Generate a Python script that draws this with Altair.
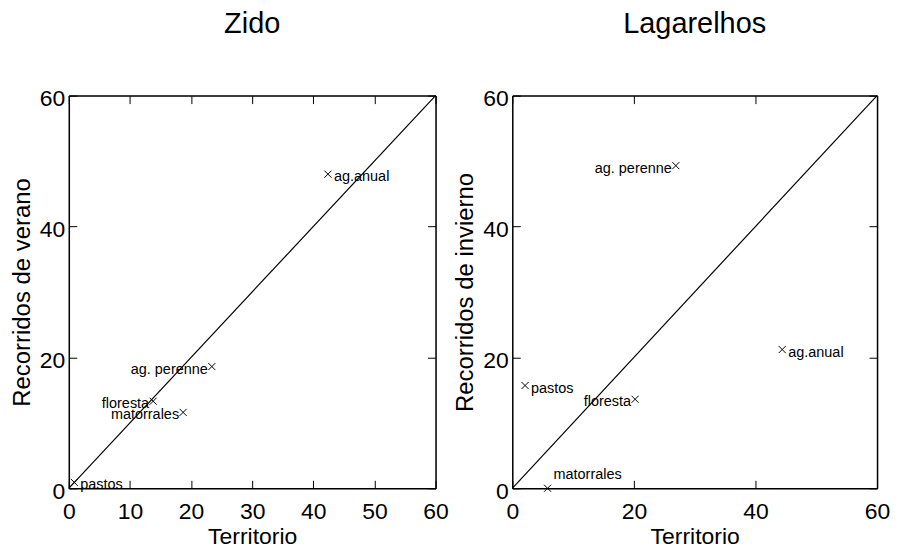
import json
import altair as alt
import pandas as pd

# ---- data ----
CATEGORIES = ["ag.anual", "ag. perenne", "floresta", "matorrales", "pastos"]
ZIDO_TERRITORIO = [42.4, 23.4, 13.8, 18.7, 0.9]
ZIDO_VERANO = [48.0, 18.6, 13.3, 11.6, 0.9]
LAG_TERRITORIO = [44.4, 26.9, 20.2, 5.8, 2.1]
LAG_INVIERNO = [21.2, 49.3, 13.6, 0.0, 15.7]
DIAGONAL = [0, 60]
ZIDO_XTICKS = [0, 10, 20, 30, 40, 50, 60]
LAG_XTICKS = [0, 20, 40, 60]
YTICKS = [0, 20, 40, 60]

# ---- styling ----
FONT = "Liberation Sans"
H = 394
W_LEFT, W_RIGHT = 368, 366
CROSS = "M-1,-1L1,1M-1,1L1,-1"


def tick_axis(orient, vals, off, domain):
    return alt.Axis(orient=orient, values=vals, offset=off, labels=False,
                    domain=domain, domainColor="black", domainWidth=1.5,
                    grid=False, ticks=True, tickSize=8,
                    tickColor="black", tickWidth=1, title=None)


def panel(title, xs, ys, ytitle, xticks, width, left_labels, above_labels):
    df = pd.DataFrame({"x": xs, "y": ys, "label": CATEGORIES})
    diag = pd.DataFrame({"x": DIAGONAL, "y": DIAGONAL})
    sx = alt.Scale(domain=[0, 60], nice=False, zero=False)
    sy = alt.Scale(domain=[0, 60], nice=False, zero=False)

    main_x = alt.X("x:Q", scale=sx, axis=alt.Axis(
        orient="bottom", values=xticks, ticks=False, grid=False,
        domain=True, domainColor="black", domainWidth=1.5,
        labelFont=FONT, labelFontSize=23, labelColor="black", labelPadding=12,
        labelFlush=False, labelOverlap=False, format="d",
        title="Territorio", titleFont=FONT, titleFontSize=23,
        titleFontWeight="normal", titleColor="black", titlePadding=2))
    main_y = alt.Y("y:Q", scale=sy, axis=alt.Axis(
        orient="left", values=YTICKS, ticks=False, grid=False,
        domain=True, domainColor="black", domainWidth=1.5,
        labelFont=FONT, labelFontSize=23, labelColor="black", labelPadding=4,
        labelOffset=3, labelFlush=False, labelOverlap=False, format="d",
        title=ytitle, titleFont=FONT, titleFontSize=24,
        titleFontWeight="normal", titleColor="black", titlePadding=5))

    pts = alt.Chart(df).mark_point(
        shape=CROSS, size=50, filled=False, stroke="black", strokeWidth=1,
        opacity=1).encode(x=main_x, y=main_y)

    # inward ticks on all four sides (+ top and right frame lines)
    line = alt.Chart(diag).mark_line(color="black", strokeWidth=1.2).encode(
        x=alt.X("x:Q", scale=sx, axis=tick_axis("top", xticks, -H, False)),
        y=alt.Y("y:Q", scale=sy, axis=tick_axis("right", YTICKS, -width, False)))
    line2 = alt.Chart(diag).mark_line(opacity=0).encode(
        x=alt.X("x:Q", scale=sx, axis=tick_axis("bottom", xticks, -H, True)),
        y=alt.Y("y:Q", scale=sy, axis=tick_axis("left", YTICKS, -width, True)))

    special = left_labels + above_labels
    tx = alt.X("x:Q", scale=sx, axis=None)
    ty = alt.Y("y:Q", scale=sy, axis=None)
    tstyle = dict(font=FONT, fontSize=14.5, color="black", baseline="middle")
    t_right = alt.Chart(df).transform_filter(
        f"indexof({json.dumps(special)}, datum.label) < 0"
    ).mark_text(align="left", dx=6, dy=3, **tstyle).encode(x=tx, y=ty, text="label:N")
    layers = [line, line2, pts, t_right]
    if left_labels:
        layers.append(alt.Chart(df).transform_filter(
            f"indexof({json.dumps(left_labels)}, datum.label) >= 0"
        ).mark_text(align="right", dx=-4, dy=3, **tstyle).encode(x=tx, y=ty, text="label:N"))
    if above_labels:
        layers.append(alt.Chart(df).transform_filter(
            f"indexof({json.dumps(above_labels)}, datum.label) >= 0"
        ).mark_text(align="left", dx=6, dy=-13, **tstyle).encode(x=tx, y=ty, text="label:N"))

    return alt.layer(*layers).resolve_axis(x="independent", y="independent").properties(
        width=width, height=H,
        title=alt.TitleParams(text=title, font=FONT, fontSize=29, fontWeight="normal",
                              color="black", anchor="middle", frame="group", offset=49))


left = panel("Zido", ZIDO_TERRITORIO, ZIDO_VERANO, "Recorridos de verano",
             ZIDO_XTICKS, W_LEFT, ["ag. perenne", "floresta", "matorrales"], [])
right = panel("Lagarelhos", LAG_TERRITORIO, LAG_INVIERNO, "Recorridos de invierno",
              LAG_XTICKS, W_RIGHT, ["ag. perenne", "floresta"], ["matorrales"])

chart = alt.hconcat(left, right, spacing=3).properties(
    padding={"left": 1, "top": 0, "right": 0, "bottom": -2}
).configure_view(strokeWidth=0).configure(background="white")

chart.save("out.html", embed_options={"renderer": "svg", "actions": False})
